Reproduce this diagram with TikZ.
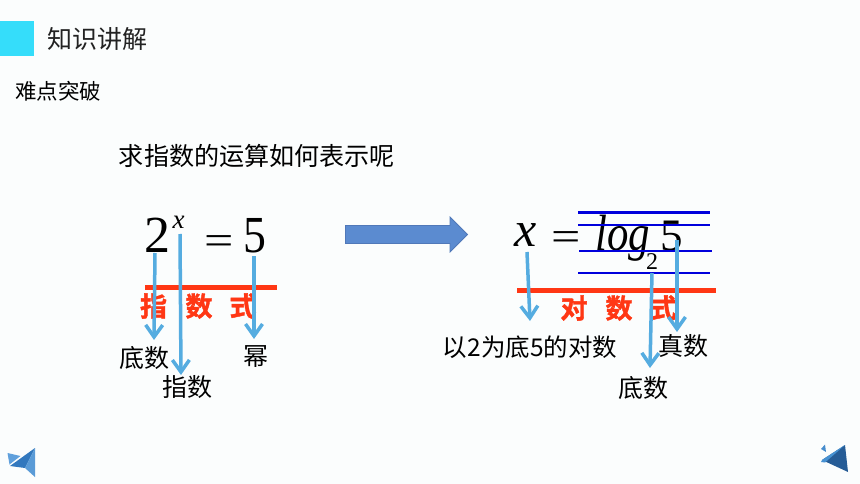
\documentclass[tikz,border=0pt]{standalone}
\usepackage{fontspec}
\setmainfont{Noto Sans CJK SC}
\newfontfamily\timesfont{Liberation Serif}
\newfontfamily\heavyfont[FakeBold=1.4]{Noto Sans CJK SC Bold}
\usetikzlibrary{arrows.meta}
\definecolor{bgc}{HTML}{FBFDFD}
\definecolor{cyanbox}{HTML}{35DDFA}
\definecolor{txt}{HTML}{222222}
\definecolor{redc}{HTML}{FF3714}
\definecolor{arrowc}{HTML}{55ACE0}
\definecolor{linec}{HTML}{0000DC}
\definecolor{bigfill}{HTML}{5B8BD0}
\definecolor{bigline}{HTML}{5078B8}
\definecolor{triA}{HTML}{60A0DC}
\definecolor{triB}{HTML}{3278BE}
\definecolor{triC}{HTML}{5A9BD7}
\definecolor{triD}{HTML}{468CCD}
\definecolor{triE}{HTML}{265C96}
\definecolor{triF}{HTML}{4691D2}
\tikzset{
  x=1pt,y=-1pt,
  lab/.style={inner sep=0pt,text=txt,font=\fontsize{25}{25}\selectfont,anchor=center},
  redlab/.style={inner sep=0pt,text=redc,font=\fontsize{27}{27}\selectfont\heavyfont,anchor=center},
  mathlab/.style={inner sep=0pt,text=black,anchor=base west},
  redbar/.style={draw=redc,line width=5pt},
  blueline/.style={draw=linec,line width=2pt},
  pointer/.style={draw=arrowc,line width=3.5pt,-{Straight Barb[length=12pt,width=17pt,line width=3.5pt]}},
}
\newcommand{\tms}[1]{\fontsize{#1}{#1}\selectfont\timesfont}
\begin{document}
\begin{tikzpicture}
\useasboundingbox (0,0) rectangle (860,484);
\fill[bgc] (0,0) rectangle (860,484);
\fill[cyanbox] (0,21) rectangle (34,56);
\node[lab] (title) at (97,39) {知识讲解};
\node[lab,font=\fontsize{21.5}{21.5}\selectfont,text=black] (sub) at (58.5,91) {难点突破};
\node[lab,text=black,font=\fontsize{25.1}{25.1}\selectfont] (question) at (257,156) {求指数的运算如何表示呢};

% big arrow
\path[fill=bigfill,draw=bigline,line width=.8pt]
  (345.5,225.5) -- (450,225.5) -- (450,217) -- (467.5,234.5) -- (450,252) -- (450,243.5) -- (345.5,243.5) -- cycle;

% left formula
\node[mathlab] (two) at (144,252) {\tms{52}2};
\node[mathlab] (xsup) at (172.5,228) {\tms{27}\itshape x};
\node[mathlab] (eqL) at (204,254) {\scalebox{1.13}[.9]{\tms{46}=}};
\node[mathlab] (five) at (243.5,252) {\scalebox{.88}[1]{\tms{52}5}};
\draw[redbar] (145,287) coordinate (r1a) -- (277,287) coordinate (r1b);
\node[redlab] (z1) at (153.5,306) {指};
\node[redlab] (z2) at (199,306) {数};
\node[redlab] (z3) at (243,306) {式};

% right formula
\node[mathlab] (xr) at (514.5,247) {\tms{50}\itshape x};
\node[mathlab] (eqR) at (551,251) {\scalebox{1.13}[.9]{\tms{46}=}};
\node[mathlab] (logn) at (595,250) {\scalebox{.84}[1]{\tms{51}\itshape log}};
\node[mathlab] (subtwo) at (646,269) {\tms{24}2};
\node[mathlab] (fiver) at (660.5,250) {\tms{45}5};
\coordinate (b1a) at (578,212.5); \coordinate (b1b) at (710,212.5);
\coordinate (b2a) at (578,225); \coordinate (b2b) at (710,225);
\coordinate (b3a) at (579,250.5); \coordinate (b3b) at (712,250.5);
\coordinate (b4a) at (578,272.5); \coordinate (b4b) at (710,272.5);
\draw[blueline] (b1a) -- (b1b);
\draw[blueline] (b2a) -- (b2b);
\draw[blueline] (b3a) -- (b3b);
\draw[blueline] (b4a) -- (b4b);
\draw[redbar] (517,290.5) coordinate (r2a) -- (716,290.5) coordinate (r2b);
\node[redlab] (d1) at (574,308) {对};
\node[redlab] (d2) at (619,308) {数};
\node[redlab] (d3) at (663,308) {式};

% labels
\node[lab,text=black] (l1) at (144,358) {底数};
\node[lab,text=black] (l2) at (187.5,387) {指数};
\node[lab,text=black] (l3) at (255.5,357) {幂};
\node[lab,text=black,font=\fontsize{24.5}{24.5}\selectfont] (l4) at (530,347) {以2为底5的对数};
\node[lab,text=black] (l5) at (683,346) {真数};
\node[lab,text=black] (l6) at (643,388) {底数};

% pointers
\coordinate (p1s) at (155,253); \coordinate (p1e) at (154,340);
\coordinate (p2s) at (180,234); \coordinate (p2e) at (181,375);
\coordinate (p3s) at (254,256); \coordinate (p3e) at (254,339);
\coordinate (p4s) at (527,252); \coordinate (p4e) at (530,321);
\coordinate (p5s) at (677,240); \coordinate (p5e) at (677,332);
\coordinate (p6s) at (652,273); \coordinate (p6e) at (650,368);
\draw[pointer] (p1s) -- (p1e);
\draw[pointer] (p2s) -- (p2e);
\draw[pointer] (p3s) -- (p3e);
\draw[pointer] (p4s) -- (p4e);
\draw[pointer] (p5s) -- (p5e);
\draw[pointer] (p6s) -- (p6e);

% navigation triangles
\fill[triA] (7.5,453) -- (20.5,456) -- (9.5,464.5) -- cycle;
\fill[triB] (35,448) -- (10,466) -- (25,468) -- cycle;
\fill[triC] (35,448) -- (25,468) -- (35,477) -- cycle;
\fill[triD] (825,444.5) -- (826,452) -- (821,449) -- cycle;
\fill[triE] (845,445) -- (848,472) -- (822,460) -- cycle;
\fill[triF] (845,445) -- (822,460) -- (821,462) -- (825,462.5) -- cycle;
\end{tikzpicture}
\end{document}
